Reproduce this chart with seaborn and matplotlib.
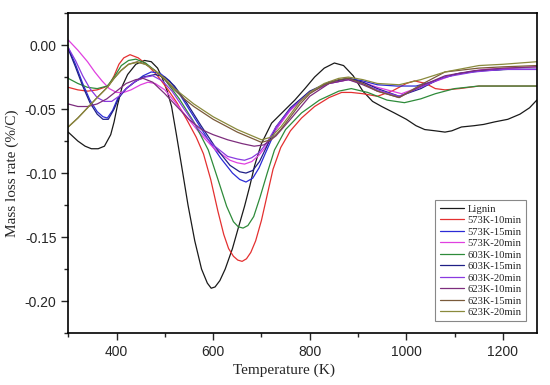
import numpy as np
import pandas as pd
import matplotlib
matplotlib.use("Agg")
import matplotlib.pyplot as plt
import seaborn as sns
from matplotlib.ticker import MultipleLocator

# Lignin (black)
lignin_T = [300, 320, 335, 348, 362, 375, 388, 395, 402, 412, 423, 440, 458, 472, 485, 495,
            505, 514, 524, 535, 548, 562, 576, 588, 596, 604, 614, 625, 640, 652, 665, 676, 686,
            700, 721, 745, 769, 790, 810, 830, 851, 870, 890, 910, 930, 949, 975, 1000, 1020,
            1038, 1060, 1080, 1094, 1114, 1140, 1160, 1183, 1210, 1235, 1255, 1270]
lignin_v = [-0.068, -0.075, -0.079, -0.081, -0.081, -0.079, -0.070, -0.060, -0.047, -0.032,
            -0.023, -0.015, -0.012, -0.013, -0.018, -0.026, -0.036, -0.048, -0.070, -0.095,
            -0.125, -0.153, -0.175, -0.186, -0.190, -0.189, -0.184, -0.175, -0.159, -0.143, -0.126,
            -0.110, -0.094, -0.077, -0.061, -0.052, -0.043, -0.034, -0.025, -0.018, -0.014,
            -0.016, -0.024, -0.036, -0.044, -0.048, -0.053, -0.058, -0.063, -0.066, -0.067,
            -0.068, -0.067, -0.064, -0.063, -0.062, -0.060, -0.058, -0.054, -0.049, -0.043]

# 573K-10min (red)
k573_10_T = [300, 320, 340, 360, 375, 385, 395, 405, 415, 428, 445, 465, 485, 505, 525, 545,
             565, 580, 595, 610, 622, 632, 642, 651, 660, 669, 678, 688, 700, 712, 724, 740, 760,
             783, 810, 840, 866, 886, 910, 940, 970, 1000, 1017, 1040, 1060, 1080, 1110, 1150,
             1200, 1270]
k573_10_v = [-0.033, -0.035, -0.036, -0.035, -0.033, -0.031, -0.024, -0.015, -0.010, -0.0075,
             -0.010, -0.016, -0.024, -0.034, -0.045, -0.058, -0.072, -0.085, -0.105, -0.130,
             -0.148, -0.159, -0.165, -0.168, -0.169, -0.167, -0.162, -0.153, -0.137, -0.117,
             -0.097, -0.080, -0.067, -0.057, -0.048, -0.041, -0.037, -0.037, -0.038, -0.040,
             -0.036, -0.030, -0.028, -0.030, -0.034, -0.035, -0.034, -0.032, -0.032, -0.032]

# 573K-15min (blue)
k573_15_T = [300, 315, 330, 345, 360, 372, 381, 392, 402, 420, 437, 455, 472, 490, 510, 530,
             560, 590, 615, 640, 655, 668, 682, 695, 710, 730, 760, 800, 840, 880, 910, 940, 980,
             1020, 1050, 1100, 1150, 1200, 1270]
k573_15_v = [-0.002, -0.015, -0.030, -0.043, -0.052, -0.056, -0.057, -0.051, -0.042, -0.034,
             -0.029, -0.024, -0.021, -0.022, -0.028, -0.038, -0.056, -0.074, -0.088, -0.100,
             -0.105, -0.107, -0.104, -0.096, -0.083, -0.066, -0.050, -0.037, -0.029, -0.026,
             -0.028, -0.031, -0.032, -0.032, -0.029, -0.023, -0.020, -0.019, -0.019]

# 573K-20min (magenta)
k573_20_T = [300, 320, 340, 355, 370, 385, 400, 415, 430, 450, 465, 480, 500, 520, 545, 575,
             605, 635, 650, 665, 680, 695, 710, 730, 760, 800, 840, 880, 910, 940, 990, 1040,
             1100, 1160, 1220, 1270]
k573_20_v = [0.004, -0.004, -0.013, -0.021, -0.028, -0.034, -0.037, -0.037, -0.035, -0.031,
             -0.029, -0.030, -0.035, -0.044, -0.056, -0.070, -0.082, -0.090, -0.092, -0.093,
             -0.091, -0.086, -0.079, -0.066, -0.051, -0.037, -0.030, -0.027, -0.029, -0.033,
             -0.038, -0.031, -0.023, -0.019, -0.018, -0.017]

# 603K-10min (green)
k603_10_T = [300, 320, 340, 360, 381, 395, 410, 425, 440, 460, 480, 500, 530, 560, 590, 610,
             628, 642, 652, 662, 672, 684, 697, 712, 727, 750, 783, 820, 860, 886, 920, 960, 996,
             1030, 1060, 1100, 1150, 1200, 1270]
k603_10_v = [-0.026, -0.030, -0.033, -0.034, -0.032, -0.025, -0.016, -0.012, -0.011, -0.014,
             -0.020, -0.027, -0.042, -0.060, -0.082, -0.105, -0.126, -0.138, -0.142, -0.143,
             -0.141, -0.134, -0.119, -0.100, -0.082, -0.066, -0.053, -0.043, -0.036, -0.034,
             -0.037, -0.043, -0.045, -0.042, -0.038, -0.034, -0.032, -0.032, -0.032]

# 603K-15min (navy)
k603_15_T = [300, 315, 330, 345, 360, 372, 383, 395, 405, 420, 437, 455, 480, 500, 520, 545,
             575, 605, 635, 655, 668, 682, 696, 710, 730, 760, 800, 840, 880, 910, 940, 985, 1030,
             1070, 1110, 1160, 1210, 1270]
k603_15_v = [-0.003, -0.017, -0.032, -0.045, -0.054, -0.058, -0.058, -0.050, -0.041, -0.034,
             -0.029, -0.025, -0.023, -0.025, -0.032, -0.045, -0.063, -0.080, -0.094, -0.099,
             -0.100, -0.098, -0.091, -0.080, -0.064, -0.049, -0.036, -0.029, -0.026, -0.029,
             -0.034, -0.040, -0.034, -0.026, -0.022, -0.020, -0.019, -0.019]

# 603K-20min (violet)
k603_20_T = [300, 315, 330, 345, 360, 375, 390, 405, 420, 440, 460, 475, 495, 515, 540, 570,
             600, 630, 650, 665, 680, 695, 710, 730, 760, 800, 840, 880, 910, 940, 985, 1030,
             1080, 1140, 1200, 1270]
k603_20_v = [-0.002, -0.012, -0.024, -0.034, -0.041, -0.044, -0.044, -0.040, -0.034, -0.028,
             -0.025, -0.024, -0.028, -0.036, -0.050, -0.066, -0.078, -0.087, -0.089, -0.090,
             -0.088, -0.084, -0.077, -0.064, -0.050, -0.037, -0.030, -0.027, -0.030, -0.035,
             -0.040, -0.033, -0.025, -0.021, -0.019, -0.019]

# 623K-10min (purple)
k623_10_T = [300, 320, 340, 360, 380, 400, 420, 440, 455, 475, 500, 525, 550, 576, 600, 630,
             660, 685, 705, 730, 760, 800, 840, 880, 910, 940, 985, 1030, 1080, 1140, 1200, 1270]
k623_10_v = [-0.046, -0.048, -0.048, -0.046, -0.042, -0.036, -0.030, -0.027, -0.026, -0.029,
             -0.038, -0.048, -0.058, -0.066, -0.070, -0.074, -0.077, -0.079, -0.078, -0.071,
             -0.058, -0.040, -0.030, -0.027, -0.031, -0.036, -0.041, -0.032, -0.024, -0.020,
             -0.018, -0.017]

# 623K-15min (brown)
k623_15_T = [300, 320, 340, 360, 381, 395, 409, 425, 443, 460, 480, 500, 520, 540, 560, 580,
             600, 625, 650, 675, 700, 720, 740, 760, 780, 800, 830, 860, 880, 910, 940, 985,
             1030, 1080, 1150, 1200, 1270]
k623_15_v = [-0.064, -0.057, -0.049, -0.041, -0.033, -0.026, -0.020, -0.015, -0.013, -0.015,
             -0.020, -0.027, -0.035, -0.042, -0.048, -0.053, -0.058, -0.063, -0.068, -0.072,
             -0.076, -0.074, -0.066, -0.056, -0.046, -0.038, -0.031, -0.027, -0.026, -0.030,
             -0.036, -0.041, -0.031, -0.021, -0.018, -0.017, -0.016]

# 623K-20min (olive)
k623_20_T = k623_15_T
k623_20_v = [-0.064, -0.057, -0.049, -0.041, -0.033, -0.026, -0.020, -0.015, -0.0135, -0.015,
             -0.020, -0.026, -0.034, -0.040, -0.046, -0.051, -0.056, -0.061, -0.066, -0.070,
             -0.074, -0.072, -0.064, -0.054, -0.044, -0.037, -0.030, -0.026, -0.025, -0.027,
             -0.030, -0.031, -0.027, -0.021, -0.016, -0.015, -0.013]

series_names = ["Lignin", "573K-10min", "573K-15min", "573K-20min", "603K-10min",
                "603K-15min", "603K-20min", "623K-10min", "623K-15min", "623K-20min"]
series_T = [lignin_T, k573_10_T, k573_15_T, k573_20_T, k603_10_T,
            k603_15_T, k603_20_T, k623_10_T, k623_15_T, k623_20_T]
series_v = [lignin_v, k573_10_v, k573_15_v, k573_20_v, k603_10_v,
            k603_15_v, k603_20_v, k623_10_v, k623_15_v, k623_20_v]
colors = ["#1a1a1a", "#e43030", "#2b2bd6", "#e040e0", "#2e8b3a",
          "#1f1f86", "#8a3ae0", "#7d2d7d", "#7a5a3a", "#8a8a3c"]

sns.set_style("ticks")
plt.rcParams["font.family"] = ["Liberation Sans", "DejaVu Sans"]
plt.rcParams["axes.unicode_minus"] = False

fig = plt.figure(figsize=(5.5, 3.85), dpi=100)
ax = fig.add_axes([0.124, 0.135, 0.852, 0.831])

for name, T, v, c in zip(series_names, series_T, series_v, colors):
    df = pd.DataFrame({"T": T, "v": v})
    sns.lineplot(data=df, x="T", y="v", ax=ax, color=c, linewidth=0.9,
                 label=name, sort=False, estimator=None)

ax.set_xlim(300, 1270)
ax.set_ylim(-0.225, 0.025)
ax.xaxis.set_major_locator(MultipleLocator(200))
ax.xaxis.set_minor_locator(MultipleLocator(100))
ax.yaxis.set_major_locator(MultipleLocator(0.05))
ax.yaxis.set_minor_locator(MultipleLocator(0.025))
ax.yaxis.set_major_formatter(plt.FuncFormatter(lambda y, p: f"{y:.2f}".replace("-0.00", "0.00")))
ax.tick_params(which="major", direction="out", length=5, width=1, labelsize=10)
ax.tick_params(which="minor", direction="out", length=3, width=1)
for s in ax.spines.values():
    s.set_linewidth(1.2)
    s.set_color("black")

ax.set_xlabel("Temperature (K)", fontsize=11, family="Liberation Serif")
ax.set_ylabel("Mass loss rate (%/C)", fontsize=11, family="Liberation Serif")
ax.xaxis.set_label_coords(0.46, -0.095)

leg = ax.legend(loc="lower right", bbox_to_anchor=(0.988, 0.02), fancybox=False,
                framealpha=1, edgecolor="#888888", handlelength=2.3, handletextpad=0.35,
                labelspacing=0.2, borderpad=0.4, prop={"family": "Liberation Serif", "size": 7.6})
leg.get_frame().set_linewidth(0.8)

fig.savefig("out.png", dpi=100)
